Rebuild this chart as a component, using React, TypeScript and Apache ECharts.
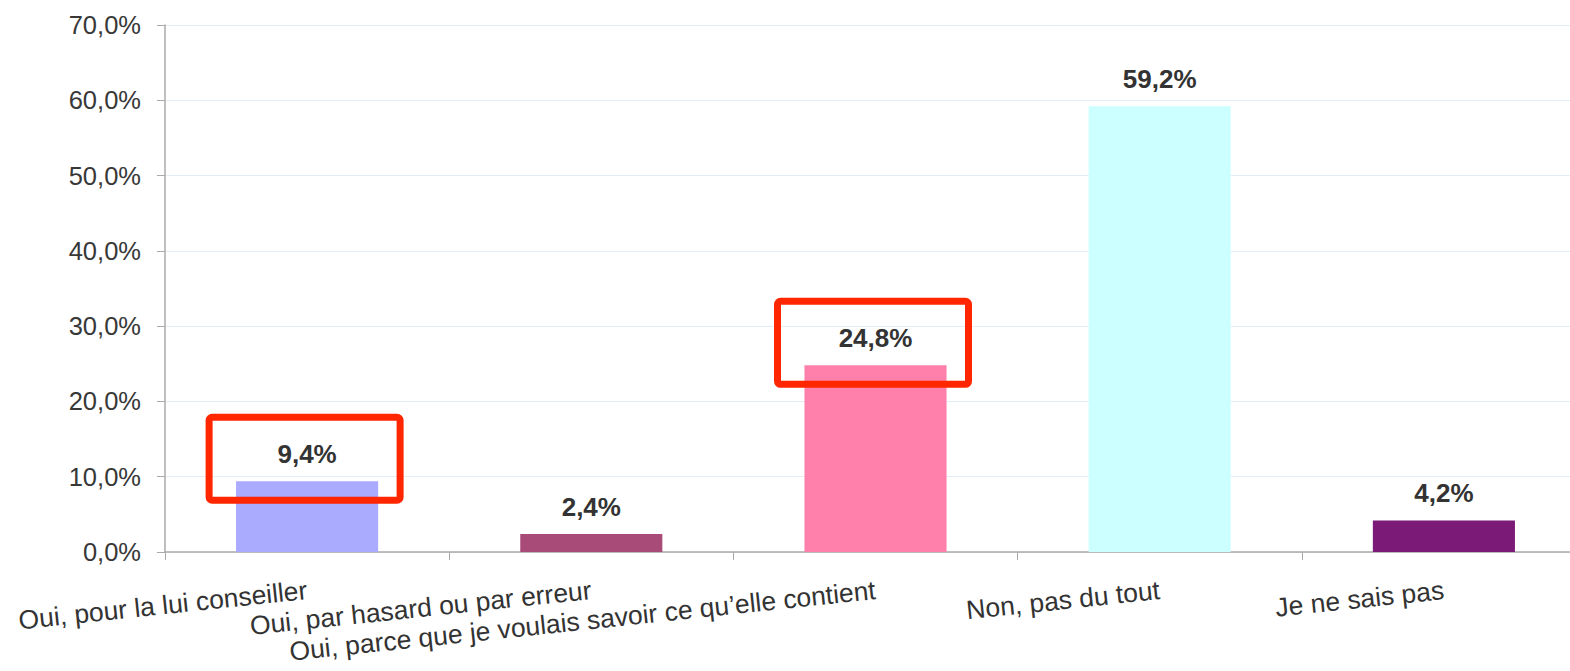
import React, { useEffect, useRef } from 'react';
import * as echarts from 'echarts';

const categories = [
  'Oui, pour la lui conseiller',
  'Oui, par hasard ou par erreur',
  'Oui, parce que je voulais savoir ce qu’elle contient',
  'Non, pas du tout',
  'Je ne sais pas',
];
const values = [9.4, 2.4, 24.8, 59.2, 4.2];
const barColors = ['#aaaaff', '#a84b79', '#ff80aa', '#ccffff', '#7b1a77'];
const highlighted = [0, 2];
const yMin = 0;
const yMax = 70;
const yInterval = 10;

const fmt = (v: number) => v.toFixed(1).replace('.', ',') + '%';
const FONT = '"Liberation Sans", Arial, Helvetica, sans-serif';

export default function App() {
  const ref = useRef<HTMLDivElement>(null);
  useEffect(() => {
    if (!ref.current) return;
    const chart = echarts.init(ref.current, undefined, { renderer: 'svg' });
    chart.setOption({
      animation: false,
      backgroundColor: '#ffffff',
      grid: { left: 165, top: 25, right: 0, bottom: 119, containLabel: false },
      xAxis: {
        type: 'category',
        data: categories.map((c, i) =>
          i === 1 ? { value: c, textStyle: { padding: [12, 0, 0, 0] } } : c
        ),
        boundaryGap: true,
        axisLine: { lineStyle: { color: '#aaaaaa', width: 1.5 } },
        axisTick: { show: true, length: 8, alignWithLabel: false, lineStyle: { color: '#aaaaaa' } },
        axisLabel: {
          rotate: 6,
          interval: 0,
          margin: 38,
          fontSize: 26.5,
          fontFamily: FONT,
          color: '#333333',
        },
      },
      yAxis: {
        type: 'value',
        min: yMin,
        max: yMax,
        interval: yInterval,
        axisLine: { show: true, lineStyle: { color: '#aaaaaa', width: 1.5 } },
        axisTick: { show: true, length: 8, lineStyle: { color: '#aaaaaa' } },
        splitLine: { show: true, lineStyle: { color: '#e4edf6', width: 1 } },
        axisLabel: {
          formatter: (v: number) => fmt(v),
          margin: 24,
          fontSize: 25.5,
          fontFamily: FONT,
          color: '#383838',
        },
      },
      series: [
        {
          type: 'bar',
          barWidth: '50%',
          data: values.map((v, i) => ({ value: v, itemStyle: { color: barColors[i] } })),
          label: {
            show: true,
            position: 'top',
            distance: 14,
            formatter: (p: any) => fmt(p.value),
            fontSize: 26,
            fontWeight: 'bold',
            fontFamily: FONT,
            color: '#333333',
          },
        },
      ],
    });

    const boxes = highlighted.map((i) => {
      const [cx, topY] = chart.convertToPixel({ seriesIndex: 0 }, [i, values[i]]) as number[];
      return {
        type: 'rect',
        z: 100,
        shape: { x: cx - 98, y: topY - 64, width: 191, height: 83, r: 3 },
        style: { fill: 'none', stroke: '#ff2600', lineWidth: 7 },
      };
    });
    chart.setOption({ graphic: boxes });

    return () => chart.dispose();
  }, []);
  return (
    <div style={{ position: 'fixed', left: 0, top: 0, width: 1570, height: 671, overflow: 'hidden', background: '#fff' }}>
      <div ref={ref} style={{ width: 1586, height: 671 }} />
    </div>
  );
}
